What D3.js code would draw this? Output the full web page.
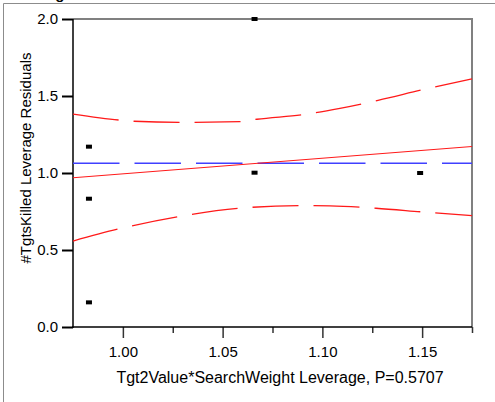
<!DOCTYPE html>
<html><head><meta charset="utf-8">
<script src="https://cdn.jsdelivr.net/npm/d3@7"></script>
<style>
html,body{margin:0;padding:0;background:#fff;}
text{font-family:"Liberation Sans",Arial,sans-serif;}
</style></head>
<body>
<script>
// ---- data ----
const xTicks = [1.00, 1.05, 1.10, 1.15];
const xMinorTicks = [1.025, 1.075, 1.125, 1.175];
const yTicks = [0.0, 0.5, 1.0, 1.5, 2.0];
const pointX = [0.983, 0.983, 0.983, 1.066, 1.066, 1.149];
const pointY = [1.171, 0.833, 0.160, 2.000, 1.002, 1.000];
const fitX = [0.975, 1.175];
const fitY = [0.969, 1.172];
const meanY = 1.063;
const upperX = [0.975, 0.998, 1.0056, 1.0286, 1.0587, 1.0672, 1.0903, 1.1088, 1.1279, 1.1504, 1.175];
const upperY = [1.383, 1.344, 1.336, 1.329, 1.333, 1.349, 1.379, 1.420, 1.472, 1.541, 1.612];
const lowerX = [0.975, 0.9976, 1.0276, 1.0582, 1.0888, 1.1038, 1.1269, 1.1504, 1.175];
const lowerY = [0.558, 0.636, 0.716, 0.771, 0.788, 0.786, 0.771, 0.747, 0.723];
const xLabel = "Tgt2Value*SearchWeight Leverage, P=0.5707";
const yLabel = "#TgtsKilled Leverage Residuals";
const titleText = "Leverage Plot";

const W = 495, H = 402;
const svg = d3.select("body").append("svg").attr("width", W).attr("height", H);

// outer frame
svg.append("line").attr("x1",3.5).attr("x2",W).attr("y1",3.5).attr("y2",3.5).attr("stroke","#8c8c8c");
svg.append("line").attr("x1",3.5).attr("x2",3.5).attr("y1",3.5).attr("y2",H).attr("stroke","#8c8c8c");
svg.append("text").attr("x",7).attr("y",-1).attr("font-size",15).attr("font-weight","bold").text(titleText);

const x = d3.scaleLinear().domain([0.975, 1.175]).range([73, 472]);
const y = d3.scaleLinear().domain([0, 2]).range([327, 19]);

// axes
const gx = svg.append("g").attr("transform","translate(0,327)")
  .call(d3.axisBottom(x).tickValues(xTicks).tickFormat(d3.format(".2f")).tickSize(11).tickPadding(8));
gx.select(".domain").remove();
gx.selectAll("line").attr("stroke","#333").attr("stroke-width",1.5);
gx.selectAll("text").attr("font-size",15).attr("fill","#000").attr("dy","0.71em");
const gxm = svg.append("g").attr("transform","translate(0,327)")
  .call(d3.axisBottom(x).tickValues(xMinorTicks).tickFormat("").tickSize(6));
gxm.select(".domain").remove();
gxm.selectAll("line").attr("stroke","#333").attr("stroke-width",1.5);

const gy = svg.append("g").attr("transform","translate(73,0)")
  .call(d3.axisLeft(y).tickValues(yTicks).tickFormat(d3.format(".1f")).tickSize(11).tickPadding(4));
gy.select(".domain").remove();
gy.selectAll("line").attr("stroke","#000").attr("stroke-width",2);
gy.selectAll("text").attr("font-size",15).attr("fill","#000");

// frame of plot
svg.append("line").attr("x1",73).attr("x2",472).attr("y1",19).attr("y2",19).attr("stroke","#808080").attr("stroke-width",2);
svg.append("line").attr("x1",472).attr("x2",472).attr("y1",18).attr("y2",327).attr("stroke","#808080").attr("stroke-width",2);
svg.append("line").attr("x1",73).attr("x2",73).attr("y1",19).attr("y2",328).attr("stroke","#000").attr("stroke-width",1.5);
svg.append("line").attr("x1",72).attr("x2",472).attr("y1",327).attr("y2",327).attr("stroke","#000").attr("stroke-width",1.5);

// mean line
svg.append("line").attr("x1",x(0.975)).attr("x2",x(1.175)).attr("y1",y(meanY)).attr("y2",y(meanY))
  .attr("stroke","#4040ff").attr("stroke-width",1.5).attr("stroke-dasharray","46.5,15");

const line = d3.line().x(d=>x(d[0])).y(d=>y(d[1])).curve(d3.curveMonotoneX);
svg.append("path").attr("d", d3.line().x(d=>x(d[0])).y(d=>y(d[1]))(fitX.map((v,i)=>[v,fitY[i]])))
  .attr("fill","none").attr("stroke","#ff1a1a").attr("stroke-width",1.2);
svg.append("path").attr("d", line(upperX.map((v,i)=>[v,upperY[i]])))
  .attr("fill","none").attr("stroke","#ff1a1a").attr("stroke-width",1.3).attr("stroke-dasharray","46,15");
svg.append("path").attr("d", line(lowerX.map((v,i)=>[v,lowerY[i]])))
  .attr("fill","none").attr("stroke","#ff1a1a").attr("stroke-width",1.3).attr("stroke-dasharray","46,15");

// points
svg.selectAll("rect.pt").data(pointX.map((v,i)=>[v,pointY[i]])).enter().append("rect")
  .attr("class","pt").attr("x",d=>x(d[0])-3).attr("y",d=>y(d[1])-2).attr("width",6).attr("height",4).attr("fill","#000");

// labels
svg.append("text").attr("x",280).attr("y",383).attr("text-anchor","middle").attr("font-size",16).text(xLabel);
svg.append("text").attr("transform","translate(31,158) rotate(-90)").attr("text-anchor","middle").attr("font-size",15).text(yLabel);
</script>
</body></html>
